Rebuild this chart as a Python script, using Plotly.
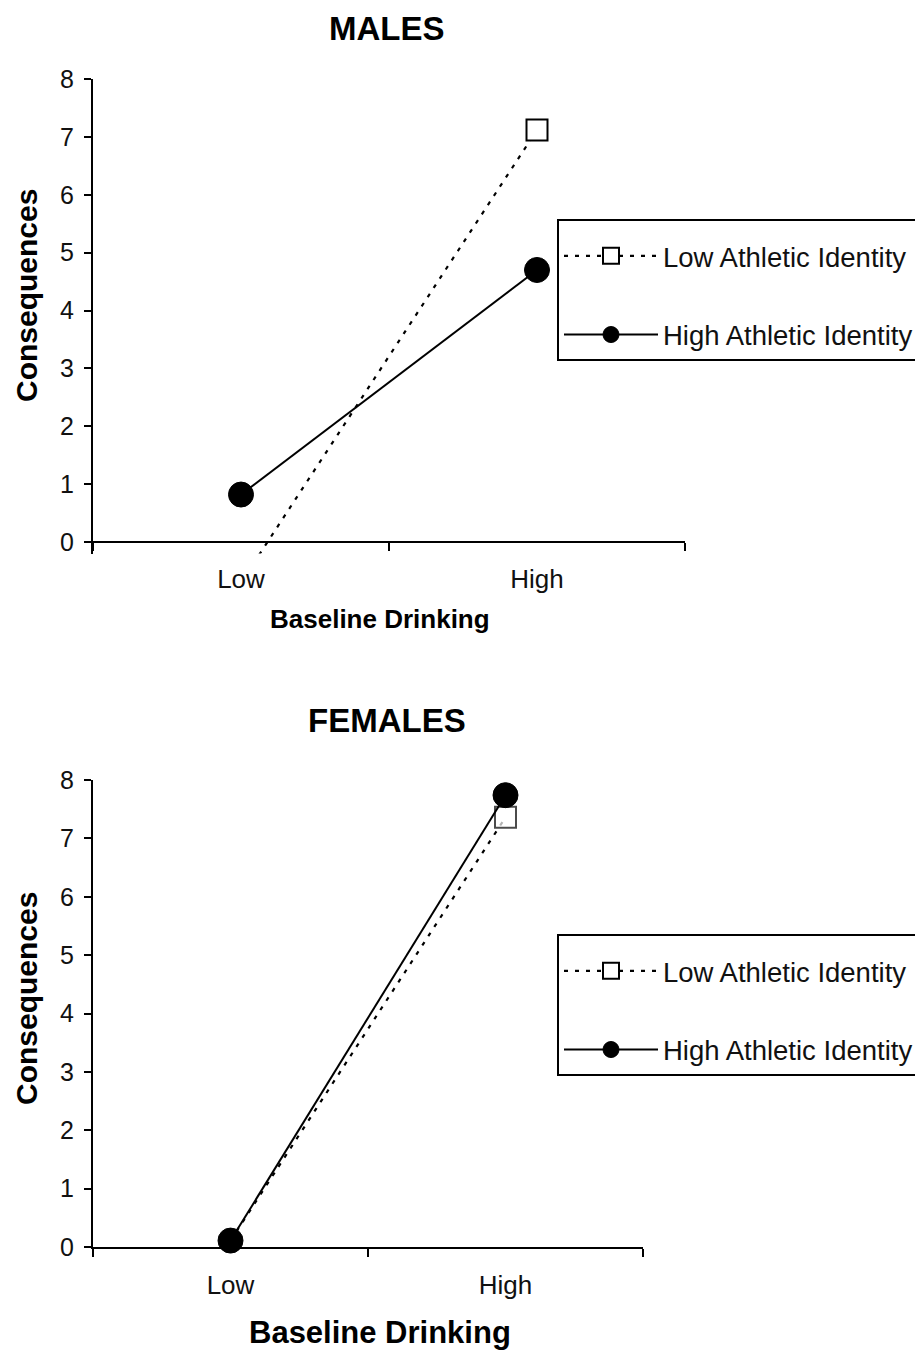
import plotly.graph_objects as go

# ---- data ----
categories = ["Low", "High"]
males_low_ai = [-0.70, 7.12]
males_high_ai = [0.82, 4.70]
females_low_ai = [0.11, 7.36]
females_high_ai = [0.11, 7.74]
y_ticks = [0, 1, 2, 3, 4, 5, 6, 7, 8]
series_names = ["Low Athletic Identity", "High Athletic Identity"]
panel_titles = ["MALES", "FEMALES"]
x_title = "Baseline Drinking"
y_title = "Consequences"

# page body has an 8px margin, so the figure is drawn 8px in from the corner
OFF = 8
W, H = 923 - OFF, 1351 - OFF
FONT = "Liberation Sans, Arial, sans-serif"

def px_x(v):
    return (v - OFF) / W

def px_y(v):
    return 1 - (v - OFF) / H

fig = go.Figure()

low_line = dict(color="black", width=2.2, dash="4px,7px")
low_marker = dict(symbol="square", size=21, color="white",
                  line=dict(color="black", width=2))
high_line = dict(color="black", width=2)
high_marker = dict(symbol="circle", size=25, color="black",
                   line=dict(color="black", width=1))

# Males panel
fig.add_trace(go.Scatter(x=categories, y=males_low_ai, name=series_names[0],
                         mode="lines+markers", line=low_line, marker=low_marker,
                         xaxis="x", yaxis="y", legend="legend",
                         legendgroup="m1", cliponaxis=True))
fig.add_trace(go.Scatter(x=categories, y=males_high_ai, name=series_names[1],
                         mode="lines+markers", line=high_line, marker=high_marker,
                         xaxis="x", yaxis="y", legend="legend",
                         legendgroup="m2", cliponaxis=False))

# Females panel (the low-end square is hidden under the circle in the original)
f_low_marker = dict(low_marker)
f_low_marker["size"] = [0, 21]
fig.add_trace(go.Scatter(x=categories, y=females_low_ai, name=series_names[0],
                         mode="lines+markers", line=low_line, marker=f_low_marker,
                         xaxis="x2", yaxis="y2", showlegend=False,
                         legendgroup="f1", cliponaxis=False))
# legend entry for that series
fig.add_trace(go.Scatter(x=[None], y=[None], name=series_names[0],
                         mode="lines+markers", line=low_line, marker=low_marker,
                         xaxis="x2", yaxis="y2", legend="legend2",
                         legendgroup="f1"))
fig.add_trace(go.Scatter(x=categories, y=females_high_ai, name=series_names[1],
                         mode="lines+markers", line=high_line, marker=high_marker,
                         xaxis="x2", yaxis="y2", legend="legend2",
                         legendgroup="f2", cliponaxis=False))

xaxis_common = dict(type="category", categoryorder="array", categoryarray=categories,
                    range=[-0.5, 1.5], tickson="boundaries", ticks="outside",
                    ticklen=8, tickwidth=2, tickcolor="black",
                    showline=True, linecolor="black", linewidth=2,
                    showgrid=False, zeroline=False, ticklabelstandoff=14,
                    automargin=False,
                    tickfont=dict(family=FONT, size=26, color="#111"),
                    fixedrange=True)
yaxis_common = dict(tickvals=y_ticks, ticks="outside",
                    ticklen=7, tickwidth=2, tickcolor="black",
                    showline=True, linecolor="black", linewidth=2,
                    showgrid=False, zeroline=False, ticklabelstandoff=5,
                    automargin=False,
                    tickfont=dict(family=FONT, size=25, color="#111"),
                    fixedrange=True)

# Males: the plot area reaches a little below zero (the dotted line runs past
# the axis in the original); the x axis itself sits at y = 0.
m_top_px, m_zero_px = 79, 542
m_ymin, m_ymax = -0.2, 8
m_bottom_px = m_zero_px + (m_zero_px - m_top_px) / m_ymax * (-m_ymin)

legend_common = dict(bgcolor="white", bordercolor="black", borderwidth=2,
                     font=dict(family=FONT, size=27.5, color="#111"),
                     itemwidth=94, tracegroupgap=40, traceorder="grouped",
                     xanchor="left", yanchor="top", itemsizing="trace",
                     xref="container", yref="container",
                     title=dict(text=" ", font=dict(size=8)))

fig.update_layout(
    width=W, height=H,
    margin=dict(l=0, r=0, t=0, b=0, autoexpand=False),
    paper_bgcolor="white", plot_bgcolor="white",
    xaxis=dict(domain=[px_x(93), px_x(685)], anchor="free", position=px_y(m_zero_px),
               **xaxis_common),
    yaxis=dict(domain=[px_y(m_bottom_px), px_y(m_top_px)], anchor="x",
               range=[m_ymin, m_ymax], **yaxis_common),
    xaxis2=dict(domain=[px_x(93), px_x(643)], anchor="y2", **xaxis_common),
    yaxis2=dict(domain=[px_y(1247), px_y(780)], anchor="x2", range=[0, 8],
                **yaxis_common),
    legend=dict(x=px_x(557), y=px_y(219), **legend_common),
    legend2=dict(x=px_x(557), y=px_y(934), **legend_common),
    showlegend=True,
)

ann_font = dict(family=FONT, color="black")
annotations = [
    dict(text="<b>%s</b>" % panel_titles[0], x=px_x(387), y=px_y(28), size=33),
    dict(text="<b>%s</b>" % panel_titles[1], x=px_x(387), y=px_y(720), size=33),
    dict(text="<b>%s</b>" % x_title, x=px_x(380), y=px_y(619), size=26),
    dict(text="<b>%s</b>" % x_title, x=px_x(380), y=px_y(1332), size=31),
]
for a in annotations:
    fig.add_annotation(text=a["text"], x=a["x"], y=a["y"], xref="paper", yref="paper",
                       xanchor="center", yanchor="middle", showarrow=False,
                       font=dict(size=a["size"], **ann_font))
for yc in (296, 999):
    fig.add_annotation(text="<b>%s</b>" % y_title, x=px_x(26), y=px_y(yc),
                       xref="paper", yref="paper", xanchor="center", yanchor="middle",
                       textangle=-90, showarrow=False, font=dict(size=30, **ann_font))

fig.write_html("out.html")
